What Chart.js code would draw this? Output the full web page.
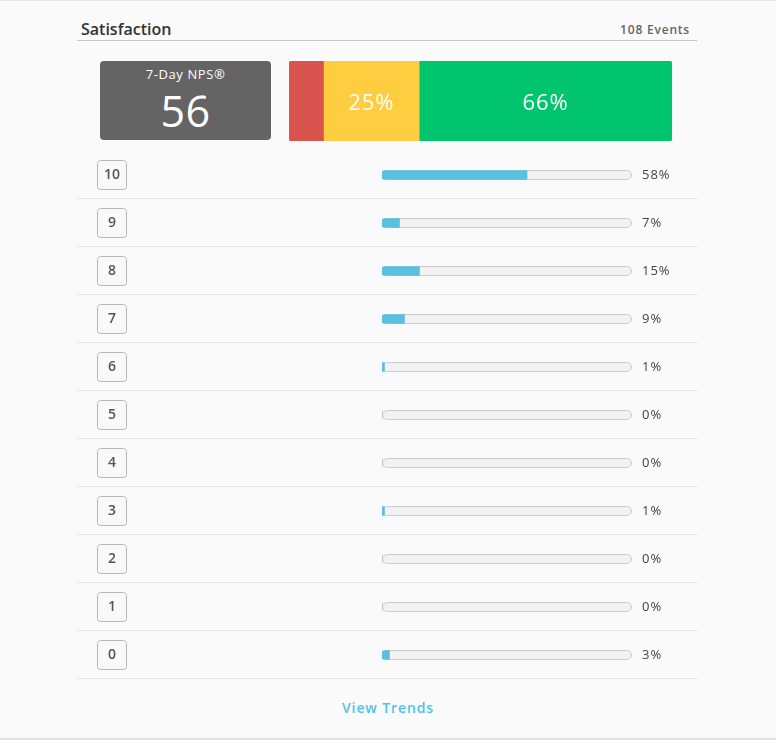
<!DOCTYPE html>
<html>
<head>
<meta charset="utf-8">
<script src="https://cdn.jsdelivr.net/npm/chart.js@4/dist/chart.umd.min.js"></script>
<style>
  html,body{margin:0;padding:0;}
  body{width:776px;height:740px;background:#fafafa;position:relative;overflow:hidden;font-family:"Open Sans",sans-serif;}
  .topline{position:absolute;left:0;top:0;width:776px;height:1px;background:#e6e6e6;}
  .botline{position:absolute;left:0;top:738px;width:776px;height:2px;background:#e2e2e2;}
  .title{position:absolute;left:81px;top:18px;font-size:16px;font-weight:600;color:#333;}
  .events{position:absolute;right:86px;top:21px;font-size:12px;font-weight:600;color:#666;letter-spacing:0.8px;}
  .hline{position:absolute;left:77px;top:40px;width:620px;height:1px;background:#c6c6c6;}
  .nps{position:absolute;left:100px;top:61px;width:171px;height:79px;background:#646464;border-radius:4px;color:#fff;text-align:center;}
  .nps .lbl{position:absolute;left:0;right:0;top:4px;font-size:13px;letter-spacing:0.6px;}
  .nps .val{position:absolute;left:0;right:0;top:22px;font-size:43px;line-height:56px;letter-spacing:0.5px;}
  #stack{position:absolute;left:289px;top:61px;}
  #rows{position:absolute;left:77px;top:151px;}
  .trends{position:absolute;left:0;width:776px;top:698px;text-align:center;font-size:14px;font-weight:600;color:#4fc3ea;letter-spacing:0.9px;}
</style>
</head>
<body>
<div class="topline"></div>
<div class="title">Satisfaction</div>
<div class="events">108 Events</div>
<div class="hline"></div>
<div class="nps"><div class="lbl">7-Day NPS®</div><div class="val" id="npsval"></div></div>
<canvas id="stack" width="383" height="80" style="width:383px;height:80px"></canvas>
<canvas id="rows" width="620" height="528" style="width:620px;height:528px"></canvas>
<div class="trends">View Trends</div>
<div class="botline"></div>
<script>
const npsScore = 56;
const npsGroups = ["Detractors", "Passives", "Promoters"];
const npsShares = [9, 25, 66];
const npsColors = ["#d9534f", "#ffcd40", "#00c46e"];
const scores = ["10", "9", "8", "7", "6", "5", "4", "3", "2", "1", "0"];
const scoreShares = [58, 7, 15, 9, 1, 0, 0, 1, 0, 0, 3];

document.getElementById('npsval').textContent = npsScore;
Chart.defaults.font.family = '"Open Sans", sans-serif';
Chart.defaults.animation = false;

function rr(ctx, x, y, w, h, r) {
  ctx.beginPath();
  ctx.moveTo(x + r, y);
  ctx.lineTo(x + w - r, y);
  ctx.arcTo(x + w, y, x + w, y + r, r);
  ctx.lineTo(x + w, y + h - r);
  ctx.arcTo(x + w, y + h, x + w - r, y + h, r);
  ctx.lineTo(x + r, y + h);
  ctx.arcTo(x, y + h, x, y + h - r, r);
  ctx.lineTo(x, y + r);
  ctx.arcTo(x, y, x + r, y, r);
  ctx.closePath();
}

// Stacked NPS bar
const stackLabels = {
  id: 'stackLabels',
  afterDatasetsDraw(chart) {
    const ctx = chart.ctx;
    ctx.save();
    ctx.fillStyle = '#fff';
    ctx.font = '22px "Open Sans", sans-serif';
    ctx.letterSpacing = '1px';
    ctx.textAlign = 'center';
    ctx.textBaseline = 'middle';
    chart.data.datasets.forEach((ds, i) => {
      const el = chart.getDatasetMeta(i).data[0];
      if (ds.data[0] >= 15) {
        const cx = (el.x + el.base) / 2;
        ctx.fillText(ds.data[0] + '%', cx, el.y + 3);
      }
    });
    ctx.restore();
  }
};
new Chart(document.getElementById('stack'), {
  type: 'bar',
  data: {
    labels: ['NPS'],
    datasets: npsGroups.map((g, i) => ({
      label: g,
      data: [npsShares[i]],
      backgroundColor: npsColors[i],
      borderWidth: 0,
      barPercentage: 1,
      categoryPercentage: 1,
      borderRadius: i === 0 ? {topLeft: 3, bottomLeft: 3} : (i === npsGroups.length - 1 ? {topRight: 3, bottomRight: 3} : 0),
      borderSkipped: false
    }))
  },
  options: {
    indexAxis: 'y',
    responsive: false,
    devicePixelRatio: 1,
    layout: {padding: 0},
    plugins: {legend: {display: false}, tooltip: {enabled: false}},
    scales: {
      x: {stacked: true, display: false, min: 0, max: 100},
      y: {stacked: true, display: false}
    }
  },
  plugins: [stackLabels]
});

// Score rows
const rowDecor = {
  id: 'rowDecor',
  beforeDatasetsDraw(chart) {
    const ctx = chart.ctx;
    const xs = chart.scales.x, ys = chart.scales.y;
    const x0 = xs.getPixelForValue(0), x1 = xs.getPixelForValue(100);
    const step = ys.height / scores.length;
    ctx.save();
    scores.forEach((s, i) => {
      const y = ys.getPixelForValue(i);
      // separator
      ctx.fillStyle = '#e3e3e3';
      ctx.fillRect(0, Math.round(y + step / 2) - 1, chart.width, 1);
      // number box
      rr(ctx, 20.5, Math.round(y) - 14.5, 29, 29, 3);
      ctx.fillStyle = '#f9f9f9';
      ctx.fill();
      ctx.strokeStyle = '#b8b8b8';
      ctx.lineWidth = 1;
      ctx.stroke();
      ctx.fillStyle = '#555';
      ctx.font = '600 14px "Open Sans", sans-serif';
      ctx.letterSpacing = '0px';
      ctx.textAlign = 'center';
      ctx.textBaseline = 'middle';
      ctx.fillText(s, 35, y + 0.5);
      // track
      rr(ctx, x0 + 0.5, Math.round(y) - 4.5, x1 - x0 - 1, 9, 4.5);
      ctx.fillStyle = '#f2f2f2';
      ctx.fill();
      ctx.strokeStyle = '#cdcdcd';
      ctx.stroke();
      // percent label
      ctx.fillStyle = '#444';
      ctx.font = '13px "Open Sans", sans-serif';
      ctx.letterSpacing = '1px';
      ctx.textAlign = 'left';
      ctx.fillText(scoreShares[i] + '%', x1 + 10, y + 0.5);
    });
    ctx.restore();
  }
};
new Chart(document.getElementById('rows'), {
  type: 'bar',
  data: {
    labels: scores,
    datasets: [{
      label: 'Share',
      data: scoreShares,
      backgroundColor: '#5bc0de',
      borderWidth: 0,
      barThickness: 9,
      borderRadius: {topLeft: 3, bottomLeft: 3, topRight: 0, bottomRight: 0},
      borderSkipped: false
    }]
  },
  options: {
    indexAxis: 'y',
    responsive: false,
    devicePixelRatio: 1,
    layout: {padding: {left: 305, right: 65, top: 0, bottom: 0}},
    plugins: {legend: {display: false}, tooltip: {enabled: false}},
    scales: {
      x: {display: false, min: 0, max: 100},
      y: {display: false}
    }
  },
  plugins: [rowDecor]
});
</script>
</body>
</html>
